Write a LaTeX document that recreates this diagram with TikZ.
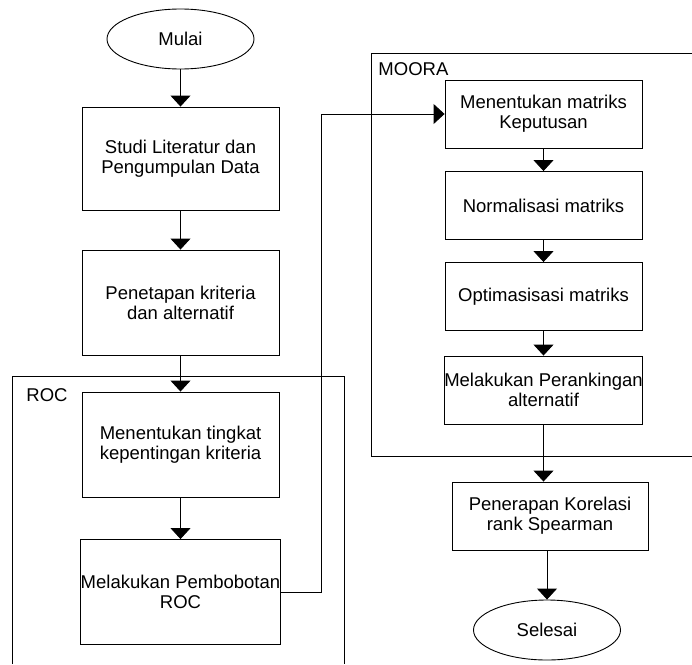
\documentclass[tikz,border=0pt]{standalone}
\usepackage{fontspec}
\setmainfont{Liberation Sans}
\usetikzlibrary{arrows.meta,shapes.geometric}

\begin{document}
\begin{tikzpicture}[x=1pt, y=-1pt, line width=0.9pt,
    every node/.style={font=\fontsize{18.5}{20}\selectfont, align=center, inner sep=0pt},
    box/.style={draw, minimum width=197pt, minimum height=105pt},
    sbox/.style={draw, minimum width=197pt, minimum height=68pt},
    term/.style={draw, ellipse, minimum width=147pt, minimum height=60pt},
    arr/.style={-{Triangle[width=20pt,length=11pt]}}]
    \useasboundingbox (0,0) rectangle (692,664);

    % ROC and MOORA frames
    \draw (12,664) |- (344,376) -- (344,664);
    \draw (692,53) -| (371,456) -- (692,456);
    \node [anchor=base west] (roc) at (26,401) {ROC};
    \node [anchor=base west] (moora) at (378,75) {MOORA};

    \node [term] (mulai) at (180.5,39) {Mulai};
    \node [box, minimum height=103pt] (studi) at (180.5,158.5) {Studi Literatur dan\\Pengumpulan Data};
    \node [box] (tetap) at (180.5,302.5) {Penetapan kriteria\\dan alternatif};
    \node [box] (tingkat) at (180.5,444.5) {Menentukan tingkat\\kepentingan kriteria};
    \node [box] (bobot) at (180.5,592) {Melakukan Pembobotan\\ROC};

    \node [sbox] (matriks) at (543.5,114) {Menentukan matriks\\Keputusan};
    \node [sbox] (normal) at (543.5,205.5) {Normalisasi matriks};
    \node [sbox] (optim) at (543.5,296.5) {Optimasisasi matriks};
    \node [sbox] (rank) at (543.5,390) {Melakukan Perankingan\\alternatif};
    \node [sbox, minimum width=196pt] (korelasi) at (550,516) {Penerapan Korelasi\\rank Spearman};
    \node [term] (selesai) at (547,630) {Selesai};

    \draw [arr] (mulai) -- (studi);
    \draw [arr] (studi) -- (tetap);
    \draw [arr] (tetap) -- (tingkat);
    \draw [arr] (tingkat) -- (bobot);
    \draw [arr] (bobot.east) -- ++(41,0) |- (matriks.west);
    \draw [arr] (matriks) -- (normal);
    \draw [arr] (normal) -- (optim);
    \draw [arr] (optim) -- (rank);
    \draw [arr] (rank.south) -- (rank.south |- korelasi.north);
    \draw [arr] (korelasi.south -| selesai) -- (selesai);
\end{tikzpicture}
\end{document}
